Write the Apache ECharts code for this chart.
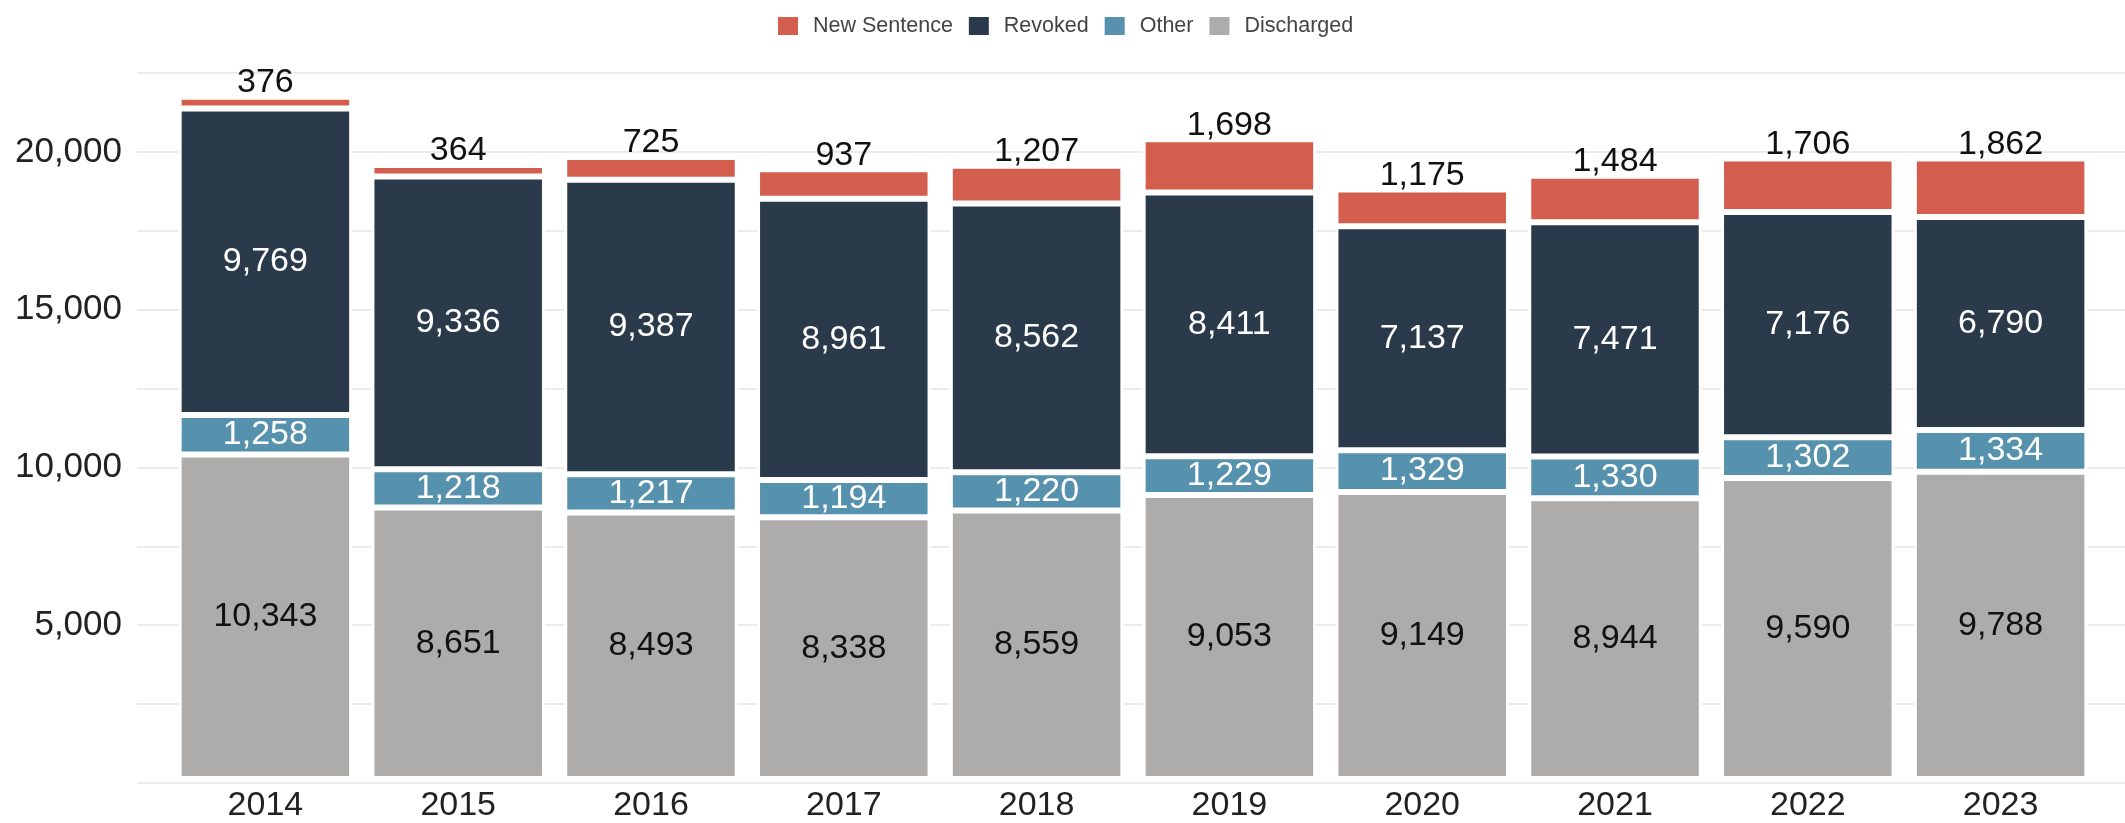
<!DOCTYPE html>
<html>
<head>
<meta charset="utf-8">
<title>Releases by type</title>
<script src="https://cdn.jsdelivr.net/npm/echarts@6/dist/echarts.min.js"></script>
<style>
  html, body { margin: 0; padding: 0; background: #fff; }
  #chart { width: 2125px; height: 823px; }
</style>
</head>
<body>
<div id="chart"></div>
<script>
// data
const years = ["2014", "2015", "2016", "2017", "2018", "2019", "2020", "2021", "2022", "2023"];
const discharged = [10343, 8651, 8493, 8338, 8559, 9053, 9149, 8944, 9590, 9788];
const other = [1258, 1218, 1217, 1194, 1220, 1229, 1329, 1330, 1302, 1334];
const revoked = [9769, 9336, 9387, 8961, 8562, 8411, 7137, 7471, 7176, 6790];
const newSentence = [376, 364, 725, 937, 1207, 1698, 1175, 1484, 1706, 1862];
const yTicks = [5000, 10000, 15000, 20000];

const colors = {
  newSentence: "#D35E4E",
  revoked: "#2B3A4A",
  other: "#5691AD",
  discharged: "#ADACAB",
};

const fmt = (v) => Number(v).toLocaleString("en-US");
const FONT = "Liberation Sans, Arial, sans-serif";

function barSeries(name, data, color, labelColor, pos) {
  return {
    name: name,
    type: "bar",
    stack: "total",
    data: data,
    xAxisIndex: 0,
    yAxisIndex: 0,
    barCategoryGap: "10%",
    itemStyle: { color: color, borderColor: "#fff", borderWidth: 3 },
    label: {
      show: true,
      position: pos || "inside",
      distance: -3,
      formatter: (p) => fmt(p.value),
      color: labelColor,
      fontFamily: FONT,
      fontSize: 34,
    },
    emphasis: { disabled: true },
  };
}

const chart = echarts.init(document.getElementById("chart"), null, { renderer: "canvas" });

chart.setOption({
  animation: false,
  backgroundColor: "#fff",
  legend: {
    data: ["New Sentence", "Revoked", "Other", "Discharged"],
    left: 773,
    top: 10,
    itemWidth: 20,
    itemHeight: 18,
    itemGap: 16,
    icon: "rect",
    itemStyle: { borderWidth: 0 },
    textStyle: {
      fontFamily: FONT,
      fontSize: 21.5,
      color: "#444",
      padding: [0, 0, 0, 10],
    },
  },
  grid: [
    // bars
    { left: 169, right: 28, top: 73, bottom: 40 },
    // wider grid only for the horizontal guide lines and y labels
    { left: 137, right: 0, top: 73, bottom: 40 },
  ],
  xAxis: [
    {
      type: "category",
      gridIndex: 0,
      data: years,
      axisLine: { show: false },
      axisTick: { show: false },
      axisLabel: { color: "#222", fontFamily: FONT, fontSize: 34, margin: 10 },
    },
    { type: "value", gridIndex: 1, show: false },
  ],
  yAxis: [
    { type: "value", gridIndex: 0, min: 0, max: 22500, interval: 2500, show: false },
    {
      type: "value",
      gridIndex: 1,
      min: 0,
      max: 22500,
      interval: 2500,
      axisLine: { show: false },
      axisTick: { show: false },
      splitLine: { lineStyle: { color: "#EBEBEB", width: 2 } },
      axisLabel: {
        margin: 15,
        color: "#222",
        fontFamily: FONT,
        fontSize: 35,
        formatter: (v) => (yTicks.includes(v) ? fmt(v) : ""),
      },
    },
  ],
  series: [
    barSeries("Discharged", discharged, colors.discharged, "#111"),
    barSeries("Other", other, colors.other, "#fff"),
    barSeries("Revoked", revoked, colors.revoked, "#fff"),
    barSeries("New Sentence", newSentence, colors.newSentence, "#111", "top"),
  ],
});
</script>
</body>
</html>
